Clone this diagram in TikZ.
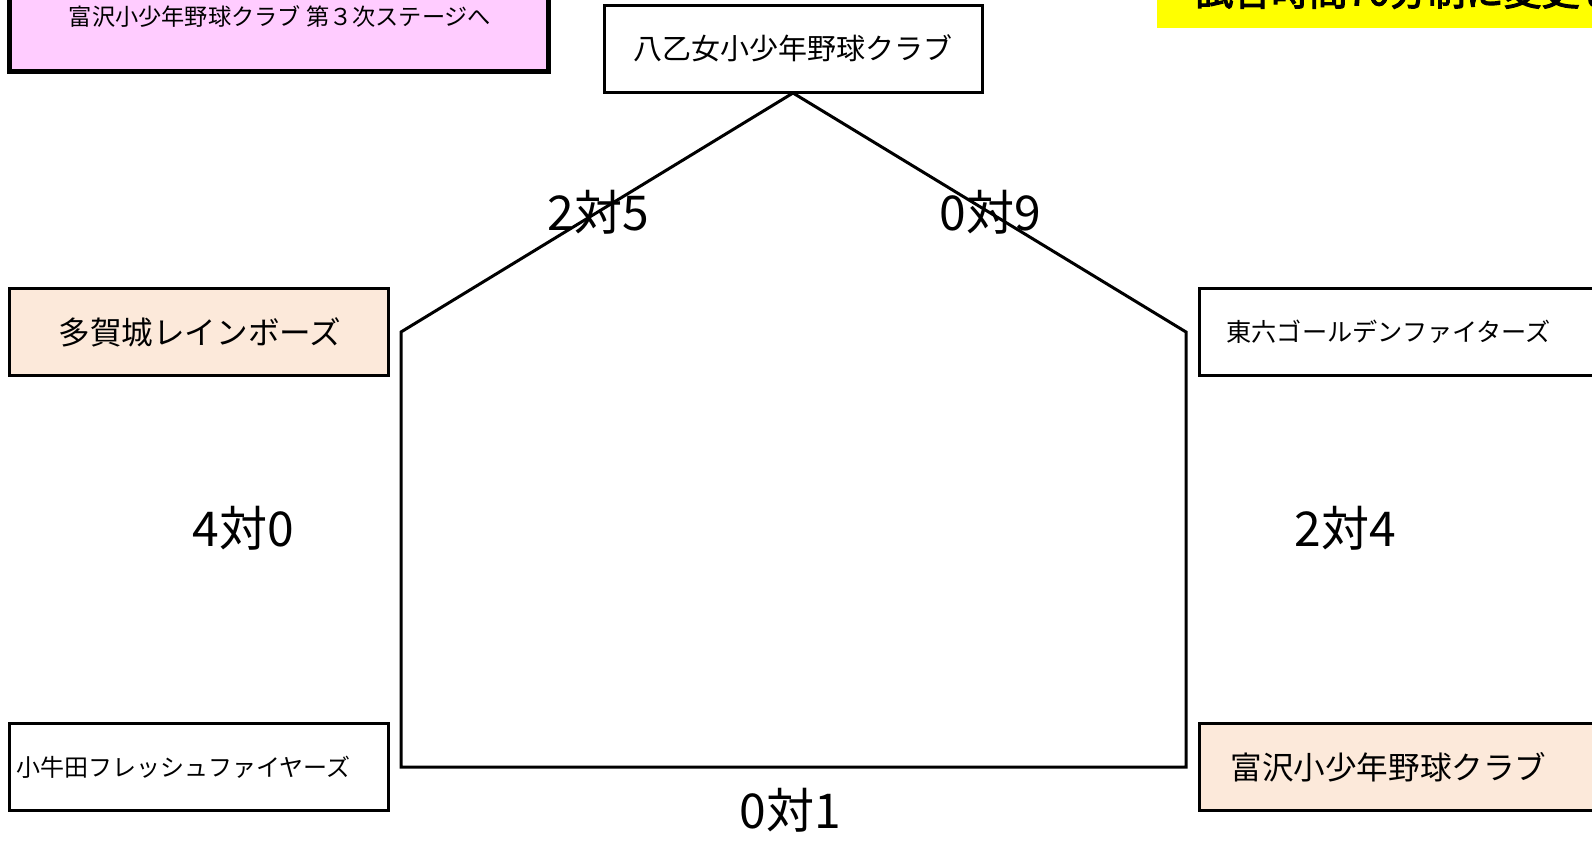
\documentclass[tikz,border=0pt]{standalone}
\usepackage{fontspec}
\setmainfont{Noto Sans CJK JP}
\newfontfamily\jpbold{Noto Sans CJK JP}[FakeBold=3]
\definecolor{pinkfill}{HTML}{FFCCFF}
\definecolor{peach}{HTML}{FCE9DA}
\definecolor{yel}{HTML}{FFFF00}
\begin{document}
\begin{tikzpicture}[x=0.5pt,y=-0.5pt,
  box/.style={draw=black,line width=1.5pt},
  lbl/.style={inner sep=0pt},
  score/.style={inner sep=0pt,font=\fontsize{24}{28}\selectfont},
  wire/.style={line width=1.5pt,line join=miter}]
\useasboundingbox (0,0) rectangle (1592,844);
\clip (0,0) rectangle (1592,844);
% boxes
\draw[draw=black,line width=2.5pt,fill=pinkfill] (9,-30) rectangle (548,72);
\node[lbl,font=\fontsize{11.6}{14}\selectfont] (stage) at (280,17) {富沢小少年野球クラブ 第３次ステージへ};
\fill[yel] (1157,-30) rectangle (1620,28);
\node[lbl,anchor=west,font=\jpbold\fontsize{19}{22}\selectfont] (notice) at (1195,-9) {試合時間70分制に変更します};
\draw[box] (604,6) rectangle (982,93);
\node[lbl,font=\fontsize{14.5}{17}\selectfont] (top) at (793,48) {八乙女小少年野球クラブ};
\draw[box,fill=peach] (9,289) rectangle (388,376);
\node[lbl,font=\fontsize{15.8}{18}\selectfont] (tagajo) at (200,332) {多賀城レインボーズ};
\draw[box] (1199,289) rectangle (1620,376);
\node[lbl,anchor=west,font=\fontsize{12.6}{15}\selectfont] (toroku) at (1226,332) {東六ゴールデンファイターズ};
\draw[box] (9,724) rectangle (388,810);
\node[lbl,anchor=west,font=\fontsize{12}{14}\selectfont] (kogota) at (16,767) {小牛田フレッシュファイヤーズ};
\draw[box,fill=peach] (1199,724) rectangle (1620,810);
\node[lbl,anchor=west,font=\fontsize{15.8}{18}\selectfont] (tomizawa) at (1230,767) {富沢小少年野球クラブ};
% bracket
\coordinate (apex) at (793,93);
\coordinate (lt) at (401,332);
\coordinate (lb) at (401,767);
\coordinate (rb) at (1186,767);
\coordinate (rt) at (1186,332);
\draw[wire] (apex) -- (lt) -- (lb) -- (rb) -- (rt) -- cycle;
% scores
\node[score] (s1) at (598,212) {2対5};
\node[score] (s2) at (990,212) {0対9};
\node[score] (s3) at (243,528) {4対0};
\node[score] (s4) at (1345,528) {2対4};
\node[score] (s5) at (790,810) {0対1};
\end{tikzpicture}
\end{document}
